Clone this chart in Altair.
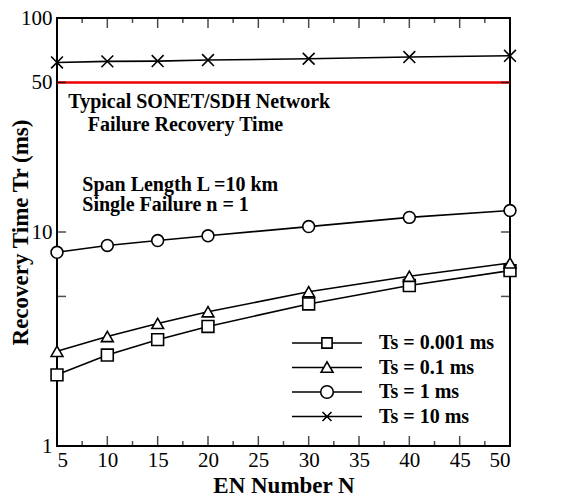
import altair as alt
import pandas as pd

# ---------------- data ----------------
N = [5, 10, 15, 20, 30, 40, 50]
ts_0001 = [2.15, 2.66, 3.14, 3.62, 4.61, 5.62, 6.60]
ts_01 = [2.77, 3.25, 3.74, 4.24, 5.26, 6.21, 7.17]
ts_1 = [8.04, 8.65, 9.12, 9.60, 10.6, 11.7, 12.6]
ts_10 = [62.0, 62.7, 62.9, 63.6, 64.5, 65.7, 66.6]
series_labels = ["Ts = 0.001 ms", "Ts = 0.1 ms", "Ts = 1 ms", "Ts = 10 ms"]

x_major = [5, 10, 15, 20, 25, 30, 35, 40, 45, 50]
x_minor = [7.5, 12.5, 17.5, 22.5, 27.5, 32.5, 37.5, 42.5, 47.5]
y_tick_vals = [5, 10, 50]
y_label_vals = [1, 10, 50, 100]
sonet_limit = [50]

note_text = ["Typical SONET/SDH Network", "Failure Recovery Time",
             "Span Length L =10 km", "Single Failure n = 1"]
note_x = [6.12, 8.05, 7.51, 7.51]
note_y = [40.5, 31.5, 16.6, 13.3]

# ---------------- tables ----------------
rows = []
for lab, vals in zip(series_labels, [ts_0001, ts_01, ts_1, ts_10]):
    for n, v in zip(N, vals):
        rows.append({"N": n, "Tr": v, "series": lab})
df = pd.DataFrame(rows)
notes = pd.DataFrame({"x": note_x, "y": note_y, "text": note_text})

FONT = "Liberation Serif"
W, H = 453, 428

xs = alt.Scale(domain=[5, 50], nice=False, zero=False)
ys = alt.Scale(type="log", domain=[1, 100], nice=False)
xaxis = alt.Axis(values=x_major, title="EN Number N", labelPadding=3, titlePadding=4)
yaxis = alt.Axis(values=y_label_vals, format="d", title="Recovery Time Tr (ms)",
                 labelPadding=5, titleX=-30, titleY=214, titleAngle=270,
                 titleAlign="center", titleBaseline="alphabetic")

point_shapes = ["square", "triangle-up", "circle", "M-1,-1L1,1M-1,1L1,-1"]
# legend symbols: unit = 6 px; line spans +-35 px around the marker
legend_paths = [
    "M-5.83,0H-0.85M0.85,0H5.83M-0.85,-0.85H0.85V0.85H-0.85Z",
    "M-5.83,0H-0.5M0.5,0H5.83M-1,0.8L0,-0.95L1,0.8Z",
    "M-5.83,0H-1.05M1.05,0H5.83M-1.05,0A1.05,1.05,0,1,1,1.05,0A1.05,1.05,0,1,1,-1.05,0Z",
    "M-5.83,0H5.83M-0.75,-0.75L0.75,0.75M-0.75,0.75L0.75,-0.75",
]

base = alt.Chart(df).encode(
    x=alt.X("N:Q", scale=xs, axis=xaxis),
    y=alt.Y("Tr:Q", scale=ys, axis=yaxis),
)

lines = base.mark_line(color="black", strokeWidth=1.6).encode(detail="series:N")

points = base.mark_point(filled=True, fill="white", stroke="black", strokeWidth=1.6,
                         size=140, opacity=1).encode(
    shape=alt.Shape("series:N", scale=alt.Scale(domain=series_labels, range=point_shapes),
                    legend=None)
)

ghost = base.transform_filter("false").mark_point(
    filled=False, color="black", strokeWidth=1.6, size=144, opacity=1
).encode(
    shape=alt.Shape("series:N", scale=alt.Scale(domain=series_labels, range=legend_paths),
                    legend=alt.Legend(title=None, orient="none", legendX=260, legendY=315,
                                      symbolSize=144, labelOffset=42, rowPadding=4.5,
                                      labelFont=FONT, labelFontSize=20,
                                      labelFontWeight="bold", labelColor="black",
                                      symbolStrokeWidth=1.6, symbolStrokeColor="black",
                                      symbolOpacity=1, padding=0))
)

limit = alt.Chart(pd.DataFrame({"limit": sonet_limit})).mark_rule(
    color="#ee0000", strokeWidth=2.5
).encode(y=alt.Y("limit:Q", scale=ys, axis=yaxis))

texts = alt.Chart(notes).mark_text(
    align="left", baseline="middle", font=FONT, fontSize=20, fontWeight="bold", color="black"
).encode(
    x=alt.X("x:Q", scale=xs, axis=xaxis),
    y=alt.Y("y:Q", scale=ys, axis=yaxis),
    text="text:N",
)

def xticks(vals, length, ypos):
    return alt.Chart(pd.DataFrame({"v": vals})).mark_tick(
        orient="vertical", clip=True, color="black", size=length * 2, thickness=1.5
    ).encode(x=alt.X("v:Q", scale=xs, axis=xaxis), y=alt.value(ypos))

def yticks(vals, length, xpos):
    return alt.Chart(pd.DataFrame({"v": vals})).mark_tick(
        orient="horizontal", clip=True, color="black", size=length * 2, thickness=1.5
    ).encode(y=alt.Y("v:Q", scale=ys, axis=yaxis), x=alt.value(xpos))

tick_layers = [
    xticks(x_major, 10, H), xticks(x_major, 10, 0),
    xticks(x_minor, 5, H), xticks(x_minor, 5, 0),
    yticks(y_tick_vals, 9, 0), yticks(y_tick_vals, 9, W),
]

chart = alt.layer(limit, lines, points, ghost, texts, *tick_layers).resolve_scale(
    shape="independent"
).properties(
    width=W, height=H, autosize="none", background="white",
    padding={"left": 57, "top": 18, "right": 60, "bottom": 54},
).configure_view(
    stroke="black", strokeWidth=2
).configure_axis(
    labelFont=FONT, labelFontSize=21, labelColor="black",
    titleFont=FONT, titleFontSize=23, titleFontWeight="bold", titleColor="black",
    domain=False, ticks=False, grid=False,
)

chart.save("out.html", embed_options={"renderer": "svg", "actions": False})
